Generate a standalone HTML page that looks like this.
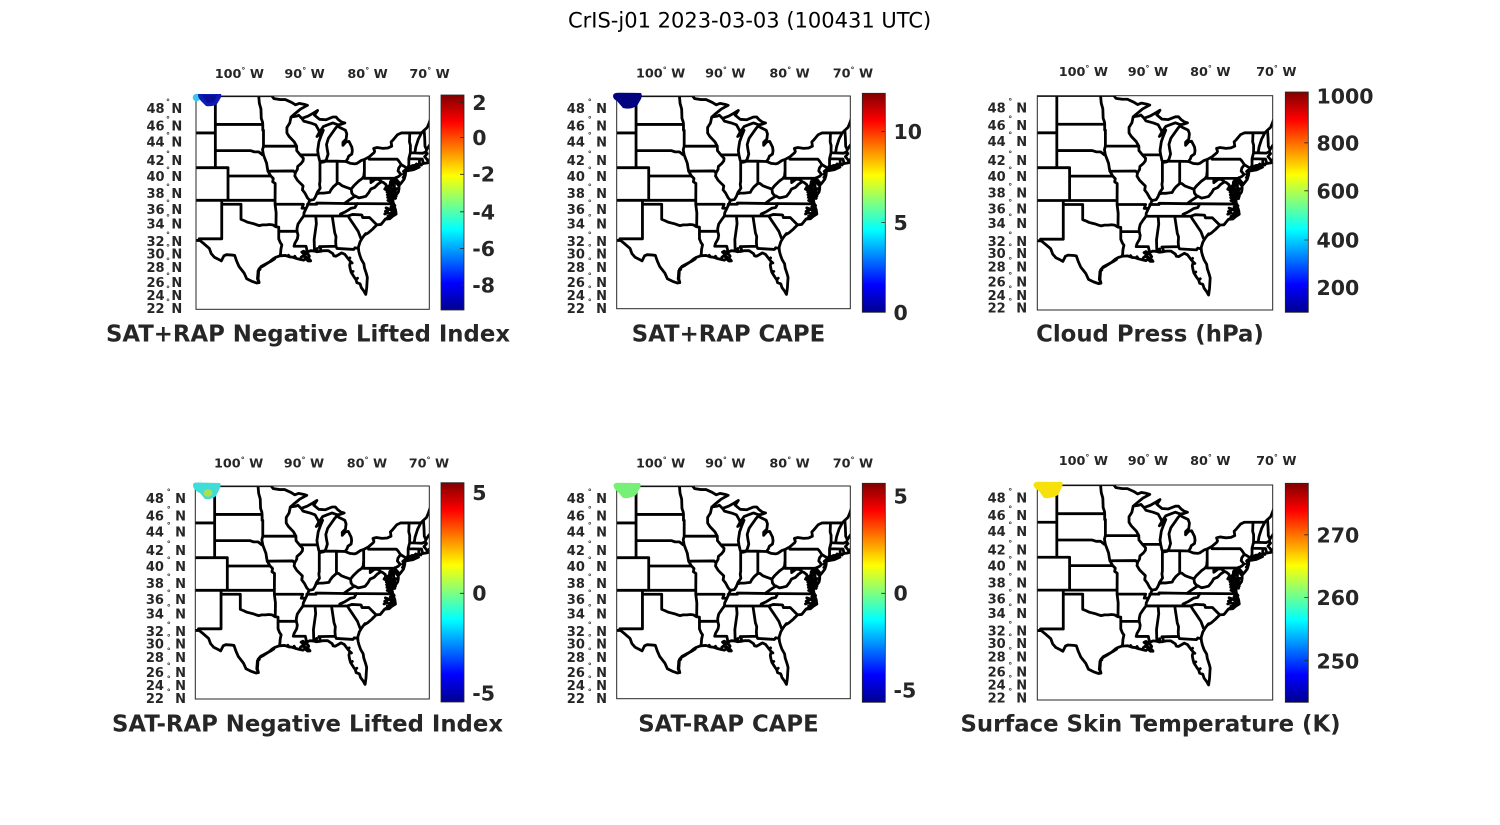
<!DOCTYPE html>
<html><head><meta charset="utf-8"><style>
html,body{margin:0;padding:0;background:#fff;}
svg{display:block;}
.t{font-family:"DejaVu Sans","Liberation Sans",sans-serif;fill:#262626;}
.lat{font-size:13px;font-weight:bold;}
.deg{font-size:8px;font-weight:bold;}
.lon{font-size:12.8px;font-weight:bold;}
.cb{font-size:20.5px;font-weight:bold;}
.st{font-size:22.8px;font-weight:bold;}
</style></head><body>
<svg width="1500" height="825" viewBox="0 0 1500 825" xmlns="http://www.w3.org/2000/svg">
<defs>
<linearGradient id="jet" x1="0" y1="1" x2="0" y2="0">
<stop offset="0" stop-color="#00008f"/><stop offset="0.125" stop-color="#0000ff"/><stop offset="0.375" stop-color="#00ffff"/><stop offset="0.625" stop-color="#ffff00"/><stop offset="0.875" stop-color="#ff0000"/><stop offset="1" stop-color="#800000"/>
</linearGradient>
<clipPath id="c1"><rect x="0" y="0" width="233.3" height="213.3"/></clipPath>
<clipPath id="c2"><rect x="0" y="0" width="233.6" height="212.7"/></clipPath>
<clipPath id="c3"><rect x="0" y="0" width="235.4" height="214.3"/></clipPath>
<clipPath id="c4"><rect x="0" y="0" width="234" height="213"/></clipPath>
<clipPath id="c6"><rect x="0" y="0" width="235.4" height="215"/></clipPath>
<g id="map">
<path vector-effect="non-scaling-stroke" fill="none" stroke="#000" stroke-width="2.8" stroke-linejoin="round" stroke-linecap="round" d="M-108,20.2L-95.15,20.2 -94.8,28.7 -93.8,31.5 -93,31.5 -92,40 -91.4,47.1 -90.8,42.8 -90,45.7 -89.5,48.5 -90.6,59.6 -91.5,73.5 -92.1,83.1 -91.2,80.4 -90.9,77.7 -90.4,87.2 -89.4,80.4 -88.5,70.7 -87.9,63.8 -88.4,77.7 -87.6,89.9 -86.6,91.3 -85.5,83.1 -85,83.1 -84.6,91.3 -84.1,98.1 -83.6,100.8 -84.2,104.8 -84.7,106.2 -85.5,100.8 -86.3,106.2 -87,111.5 -87.6,127.6 -88,140.8 -87.6,134.2 -87,122.3 -87.4,140.8 -87.7,156.6 -87.9,182.5 -87.8,195.2 -87.6,211.7 -87.3,217.4 -86.8,215.4 -86.5,207.9 -86.25,192.7 -86.4,177.3 -86.5,164.4 -86.2,146.1 -85.6,130.3 -85.1,116.9 -84.75,109.4 -84.4,114.2 -83.5,122.3 -83.3,132.9 -83.4,148.7 -83.9,157.9 -83.9,167 -83.4,156.6 -82.95,155.3 -82.5,172.1 -82.42,182.5 -82.5,192.7 -83,199 -83.15,206.6 -83.45,214.7 -82.7,220.4 -82,221.7 -81.7,220.4 -81,211.7 -80.52,208.7 -79.76,201 -79,188.8 -78.9,185 -79.05,176 -78.5,173.4 -77.6,176 -76.8,174.7 -76.2,169.5 -76.3,156.6 -76,151.3 -75.3,135.6 -74.7,130.3 -71.5,130.3 -71.08,122.3 -70.6,114.2 -70.3,100.8 -70,84.5 -69.3,65.2
M-69.2,157.9L-69.8,161.8 -70.2,165.7 -70.7,179.9 -70.8,186.3 -70.6,191.4 -71,200.3 -70.6,209.2 -70.5,214.2 -70,215.4 -69.95,206.6 -70.2,207.9 -70.05,216.2 -70.65,219.2 -71.1,220.4 -71.4,221.7 -71.85,225 -72.9,226.7 -73.7,234.2 -74,242.9 -74,246.6 -74.05,255.2 -74.25,267.4 -74.6,275.9 -74.95,283.7 -75.05,277.1 -75.5,267.4 -75.6,262.6 -75.55,271.1 -75.3,282 -75.05,287.3 -75.05,295.2 -75.15,304.8 -75.6,316.6 -75.95,326.1 -76,317.8 -75.85,307.2 -76,298.8 -76.3,291.6 -76.1,282 -76,272.3 -76.1,268.6 -76.4,274.7 -76.45,284.4 -76.6,296.4 -76.4,303.6 -76.3,315.4 -76.3,329.6 -76,330.8 -75.95,340.1 -75.6,357.6 -75.5,370.3 -76,376 -76.5,384 -77.2,385.1 -77.9,401 -78.55,402.2 -79.2,414.5 -79.9,425.7 -80.5,432.4 -80.85,441.3 -81.2,452.3 -81.45,467.7 -81.45,472 -81.4,480.8 -81.25,491.6 -81,504.6 -80.6,517.4 -80.5,530.2 -80.2,547.2 -80.05,557.7 -80.1,572.3 -80.15,588 -80.25,602 -80.3,608 -80.6,598 -81,588 -81.2,576.5 -81.7,573.3 -81.85,563.9 -82.1,557.7 -82.6,542.9 -82.75,532.3 -82.85,521.7 -82.7,511 -83,504.6 -83.6,489.5 -84.1,485.1 -84.4,488.4 -85,494.9 -85.35,493.8 -85.5,487.3 -86.2,478.6 -86.9,478.6 -87.5,480.8 -88,481.9 -88.4,479.7 -89,478.6 -89.6,483 -89.7,486.2 -89.4,489.5 -89.2,494.9 -89.4,502.4 -89.1,505.7 -89,508.9 -89.4,508.9 -89.8,502.4 -90.1,506.7 -90.6,504.6 -91.3,501.3 -91.8,498.1 -92.3,497 -93,492.7 -93.85,493.8 -94.5,498.1 -94.9,502.4 -95.5,512.1 -96.3,521.7 -96.9,528.1 -97.3,538.7 -97.35,551.4 -97.4,561.8 -97.15,573.3 -97.5,574.4 -98.3,569.2 -99.1,561.8 -99.5,545 -100.3,525.9 -100.7,508.9 -101,492.7 -101.4,491.6 -102.3,490.5 -102.7,493.8 -103.1,508.9 -103.5,504.6 -104.2,498.1 -104.7,487.3 -105,472 -105.8,458.9 -106.5,448.3 -108.2,448.3
M-73.95,242.9L-72.8,239.3 -71.85,231.2 -72.6,234.2 -73.7,235.5Z
M-103.04,329.6L-103.04,443.5 -106.6,443.5
M-103.04,341.3L-100,341.3 -100,386 -99.5,389.7 -99,394.2 -98.5,396.5 -98,398.8 -97.5,402.2 -97.1,404.4 -96.6,402.2 -96,402.2 -95.5,401.1 -95,402.2 -94.5,407.8 -94.04,408.9 -94.04,443.5 -93.8,454.5 -93.55,461.1 -93.7,474.2 -93.75,487.3 -93.85,493.8
M-94.04,421.3L-91.15,421.3
M-94.62,341.3L-94.45,366.8 -94.48,406.9
M-108,329.6L-94.62,329.6
M-102.05,233L-102.05,329.6
M-102.05,257.7L-95.3,257.7
M-108,233L-102.05,233
M-108,130.3L-104.05,130.3
M-104.05,15L-104.05,233
M-104.05,105.1L-96.56,105.1
M-104.05,182.5L-98.5,182.5 -97.9,186.3 -97.2,186.3 -96.6,195.2 -96.45,195.5
M-97.23,15L-97.1,42.8 -96.85,59.6 -96.8,87.2 -96.6,98.1 -96.56,105.1 -96.56,122.3 -96.45,122.3 -96.45,169.5 -91.22,169.5
M-96.45,169.5L-96.6,179.9 -96.45,195.5 -96.2,207.9 -95.95,220.4 -95.85,233 -95.75,242.9 -95.3,257.7 -94.9,265 -95,274.7 -94.6,279.6 -94.62,329.6 -94.62,341.3 -90.15,341.3 -90.37,353 -89.7,353
M-95.75,243.4L-91.73,242.7 -91.42,248.3
M-91.22,169.5L-91.2,182.5 -90.65,195.2 -90.15,205.4 -90.2,212.9 -90.5,220.4 -91.05,229.3 -91.1,237.9 -91.42,248.3 -91.5,257.7 -91.1,270 -90.6,279.6 -90.2,286.8 -90.3,298.8 -89.9,308.4 -89.5,322.5 -89.15,329.6 -89.4,341.3 -89.7,353 -90.05,366.8 -90.1,376 -90.55,387.4 -91,399.9 -91.15,412.3 -91.15,421.3 -91,432.4 -91.1,443.5 -91.5,456.7 -91.63,465.5 -89.73,465.5 -89.6,476.4 -89.6,483
M-92.1,83.1L-92.3,100.8 -92.75,114.2 -92.75,130.3 -92.4,140.8 -91.6,156.6 -91.22,169.5
M-90.64,195.2L-87.8,195.2
M-90.4,87.2L-90.1,95.3 -89,100.8 -88.2,106.2 -87.8,119.6 -87.6,127.6
M-87.53,215.4L-87.53,273.5 -87.6,282 -87.5,294 -87.95,306 -88.05,310.7
M-89.15,329.6L-88.5,327.2 -88.2,317.8 -88.05,310.7 -87.6,308.4 -87,308.4 -86.5,307.2 -86,306 -85.8,298.8 -85.4,289.2 -84.82,279.6 -84.5,279.6 -84,286.8 -83.5,290.4 -82.6,296.4 -82.2,286.8 -81.8,279.6 -81.4,272.3 -80.85,265 -80.6,257.7 -80.52,241.9 -80.52,208.7
M-87.2,213.9L-84.8,213.9 -83.45,214.7
M-84.82,213.9L-84.82,279.6
M-80.52,241.9L-80.52,264.5 -75.78,264.5
M-79.76,201L-79.76,207.9 -75.35,207.9 -75.1,212.9 -74.7,224 -75.1,234.2 -75.2,242.9 -74.75,252.8 -75.1,258.9 -75.5,262.6 -75.78,264.5 -75.78,295.2 -75.05,295.2
M-74.7,224L-73.9,233.2
M-73.7,234.2L-73.5,225.5 -73.5,206.6 -73.26,188.8 -73.25,167 -73.4,156.6 -73.35,130.3
M-73.26,188.8L-71.3,190.1 -70.8,186.3
M-73.5,206.6L-71.8,207.4 -71.85,225
M-71.8,207.4L-71.38,207.4 -71.2,220.4
M-72.55,189.3L-72.4,172.1 -72,148.7 -71.5,130.3
M-70.7,179.9L-70.95,169.5 -71,143.4 -71.08,122.3
M-79.48,264.5L-79.48,277.1 -78.8,267.4 -78.3,267.4 -77.8,274.7 -77.5,277.1 -77.1,283.2 -77.05,289.2 -77.3,296.4 -77,298.8 -76.4,306
M-77.8,274.7L-78.4,282 -78.9,291.6 -79.5,296.4 -79.8,306 -80.3,317.8 -80.8,320.2 -81.4,322.5 -81.97,316.9 -82.2,315.4 -82.5,308.4 -82.6,296.4
M-81.97,316.9L-83,329.6 -83.68,339
M-89.5,341.3L-88.05,341.3 -88.05,337.8 -83.68,339 -75.87,340.1
M-81.65,339L-82,350.7 -82.6,353 -83.1,358.8 -83.5,363.4 -84.3,370.3 -84.32,376
M-90.1,376L-83.1,376
M-83.1,376L-82.4,371.4 -81.05,372.6 -80.9,373.7 -80.8,380.6 -79.7,380.6 -78.55,402.2
M-83.1,376L-82.8,385.1 -82.3,398.8 -81.9,410.1 -81.5,421.3 -81.1,441.3
M-85.6,376L-85.2,425.7 -85,436.8 -85.05,452.3 -85,465.5 -84.85,472 -82.2,474.9 -82,469.9 -81.45,472
M-87.6,466.6L-85,465.5
M-87.6,466.6L-87.4,474.2 -87.5,480.8
M-88.2,376L-88.1,398.8 -88.45,445.7 -88.4,479.7
M-75.95,340.1L-76.3,348.3 -76,353 -76.6,355.3 -75.9,362.2 -76.5,369.1 -76.2,372.6 -76.8,376 -76.4,379.4 -77,382.8
M-75.9,296L-76.2,299.5 -75.95,303 -76.15,306 -75.85,309 -76.05,312 -75.8,316
M-76.45,284.4L-76.7,288 -76.4,292 -76.75,296 -76.3,300 -76.65,305 -76.25,309 -76.7,313 -76.3,318 -76.6,323 -76.25,327
M-76.9,290L-76.5,293 -76.9,297 -76.5,301 -76.95,305 -76.5,309 -76.9,313 -76.45,317 -76.85,321 -76.4,325 -76.8,330 -76.3,334
M-75.6,300L-75.95,302 -75.6,305 -75.95,308 -75.55,311 -75.9,314 -75.5,318 -75.85,321 -75.6,324
M-75.7,345L-76.1,350 -75.8,354 -76.3,358 -75.85,362 -76.2,366 -75.8,370
M-76.6,355L-77.1,352 -76.7,358 -77.2,362 -76.8,366 -77.3,370
M-74.1,240L-74.35,244 -74.1,248 -74.35,252 -74.15,258 -74.4,262
M-72.5,226L-72.3,222 -72.0,226 -71.7,222 -71.5,225
M-73.3,230L-73.0,228 -73.5,232
M-88,481.9L-87.95,472 -88.1,474
M-89.7,486.2L-90.1,480 -90.4,483 -89.9,490 -90.3,495 -89.7,497
M-94.7,503L-95.3,510 -96.1,518 -96.8,525 -97.2,534 -97.25,550 -97.3,562 -97.15,572
M-91.3,501.3L-91.5,495 M-92.3,497L-92.5,492 M-90.6,504.6L-90.5,498 M-82.6,542.9L-82.3,540 M-81.85,563.9L-81.6,560 M-82.7,511L-82.45,515 M-83,504.6L-82.8,500 M-95.5,512.1L-95.1,508 M-96.3,521.7L-96.0,517 M-97.3,538.7L-97.0,534 M-77.9,401L-77.7,397 M-79.2,414.5L-79.0,410 M-80.5,432.4L-80.3,428"/>
</g>
</defs>
<rect width="1500" height="825" fill="#fff"/>

<text x="749.6" y="27.3" text-anchor="middle" font-family="DejaVu Sans, Liberation Sans, sans-serif" font-size="21" fill="#000">CrIS-j01 2023-03-03 (100431 UTC)</text>

<!-- Panel 1 -->
<g transform="translate(196,96)">
<g clip-path="url(#c1)"><use href="#map" transform="matrix(6.3333 0 0 0.33798 678.33 -7.083)"/></g>
<rect x="0" y="0" width="233.3" height="213.3" fill="none" stroke="#262626" stroke-width="1"/>
</g>
<circle cx="196.5" cy="97.5" r="3.8" fill="#38c8f0"/>
<path d="M198,94 L221,94 Q222,96 220,99 L217,104 Q212,107 206,106 L201,101 Q198,98 198,94 Z" fill="#0c1cb4"/>
<path d="M202,95 L217,95 L214,102 L207,103 Z" fill="#0a0e98"/>

<!-- Panel 2 -->
<g transform="translate(616.7,96)">
<g clip-path="url(#c2)"><use href="#map" transform="matrix(6.3333 0 0 0.33798 678.33 -7.083)"/></g>
<rect x="0" y="0" width="233.6" height="212.7" fill="none" stroke="#262626" stroke-width="1"/>
</g>
<path d="M613,96 Q613,92.7 618,92.7 L641,93 Q642.5,95 641,99 L637,106 Q630,110 623,108 L617,101 Q613,99 613,96 Z" fill="#03037f"/>

<!-- Panel 3 -->
<g transform="translate(1037.3,95.7)">
<g clip-path="url(#c3)"><use href="#map" transform="matrix(6.39 0 0 0.33957 684.4 -7.116)"/></g>
<rect x="0" y="0" width="235.4" height="214.3" fill="none" stroke="#262626" stroke-width="1"/>
</g>

<!-- Panel 4 -->
<g transform="translate(195.3,486)">
<g clip-path="url(#c4)"><use href="#map" transform="matrix(6.3333 0 0 0.33798 678.33 -7.083)"/></g>
<rect x="0" y="0" width="234" height="213" fill="none" stroke="#262626" stroke-width="1"/>
</g>
<path d="M193,485 Q193,482.5 197,482.5 L220,483 Q221.5,485 219.5,489 L216,496 Q211,500 205,499 L200,493 Q193,490 193,485 Z" fill="#40dcd8"/>
<ellipse cx="208" cy="493" rx="4.5" ry="3.8" fill="#a8e050"/>

<!-- Panel 5 -->
<g transform="translate(616.7,486)">
<g clip-path="url(#c2)"><use href="#map" transform="matrix(6.3333 0 0 0.33798 678.33 -7.083)"/></g>
<rect x="0" y="0" width="233.6" height="212.7" fill="none" stroke="#262626" stroke-width="1"/>
</g>
<path d="M613.5,485 Q614,482.7 618,482.7 L640,483 Q641.5,485 639.5,489 L636,495 Q630,499 623,498 L618,492 Q613.5,489 613.5,485 Z" fill="#78f078"/>

<!-- Panel 6 -->
<g transform="translate(1037.3,485)">
<g clip-path="url(#c6)"><use href="#map" transform="matrix(6.39 0 0 0.34068 684.4 -7.14)"/></g>
<rect x="0" y="0" width="235.4" height="215" fill="none" stroke="#262626" stroke-width="1"/>
</g>
<path d="M1033.5,484.5 Q1034,481.7 1038,481.7 L1062,482 Q1063.5,484 1061.5,488 L1058,495 Q1051,499 1044,498 L1039,491 Q1033.5,488 1033.5,484.5 Z" fill="#f6e10a"/>

<!-- Colorbars -->
<g stroke="#262626" stroke-width="0.8">
<rect x="441" y="95" width="23" height="215" fill="url(#jet)"/>
<rect x="862.3" y="93.3" width="23" height="219" fill="url(#jet)"/>
<rect x="1285.3" y="92" width="23" height="220.3" fill="url(#jet)"/>
<rect x="441" y="482.7" width="23" height="219.3" fill="url(#jet)"/>
<rect x="862.3" y="483.3" width="23" height="219" fill="url(#jet)"/>
<rect x="1285.3" y="483.3" width="23" height="219" fill="url(#jet)"/>
<path d="M460,102.5h4M460,137.5h4M460,174.3h4M460,211.8h4M460,248.5h4M460,285.2h4M881.3,131.5h4M881.3,222.5h4M1304.3,142.8h4M1304.3,190.8h4M1304.3,240h4M1304.3,287.8h4M460,593.3h4M881.3,593.3h4M1304.3,534.8h4M1304.3,597.5h4M1304.3,660.3h4"/>
</g>

<g class="t cb">
<text x="472.2" y="110">2</text>
<text x="472.2" y="145">0</text>
<text x="472.2" y="181.7">-2</text>
<text x="472.2" y="219.3">-4</text>
<text x="472.2" y="256">-6</text>
<text x="472.2" y="292.7">-8</text>
<text x="893.5" y="139">10</text>
<text x="893.5" y="230">5</text>
<text x="893.5" y="320">0</text>
<text x="1316.5" y="103.3">1000</text>
<text x="1316.5" y="150.7">800</text>
<text x="1316.5" y="198.3">600</text>
<text x="1316.5" y="247.3">400</text>
<text x="1316.5" y="295">200</text>
<text x="472.2" y="500">5</text>
<text x="472.2" y="600.7">0</text>
<text x="472.2" y="700.7">-5</text>
<text x="893.5" y="503.3">5</text>
<text x="893.5" y="600.7">0</text>
<text x="893.5" y="697.3">-5</text>
<text x="1316.5" y="542.3">270</text>
<text x="1316.5" y="605">260</text>
<text x="1316.5" y="668.3">250</text>
</g>

<g class="t st" text-anchor="middle">
<text x="308" y="341.5">SAT+RAP Negative Lifted Index</text>
<text x="728.5" y="341.5">SAT+RAP CAPE</text>
<text x="1150" y="341.5">Cloud Press (hPa)</text>
<text x="307.5" y="731.7">SAT-RAP Negative Lifted Index</text>
<text x="728.5" y="731.7">SAT-RAP CAPE</text>
<text x="1150.5" y="731.7">Surface Skin Temperature (K)</text>
</g>

<!-- Longitude labels -->
<g class="t lon">
<text x="214.7" y="78">100<tspan class="deg" dy="-5">°</tspan><tspan dy="5"> W</tspan></text>
<text x="284.4" y="78">90<tspan class="deg" dy="-5">°</tspan><tspan dy="5"> W</tspan></text>
<text x="347.4" y="78">80<tspan class="deg" dy="-5">°</tspan><tspan dy="5"> W</tspan></text>
<text x="409.4" y="78">70<tspan class="deg" dy="-5">°</tspan><tspan dy="5"> W</tspan></text>

<text x="636" y="77.3">100<tspan class="deg" dy="-5">°</tspan><tspan dy="5"> W</tspan></text>
<text x="705.1" y="77.3">90<tspan class="deg" dy="-5">°</tspan><tspan dy="5"> W</tspan></text>
<text x="769.4" y="77.3">80<tspan class="deg" dy="-5">°</tspan><tspan dy="5"> W</tspan></text>
<text x="832.7" y="77.3">70<tspan class="deg" dy="-5">°</tspan><tspan dy="5"> W</tspan></text>

<text x="1058.7" y="76">100<tspan class="deg" dy="-5">°</tspan><tspan dy="5"> W</tspan></text>
<text x="1127.7" y="76">90<tspan class="deg" dy="-5">°</tspan><tspan dy="5"> W</tspan></text>
<text x="1190.1" y="76">80<tspan class="deg" dy="-5">°</tspan><tspan dy="5"> W</tspan></text>
<text x="1256.1" y="76">70<tspan class="deg" dy="-5">°</tspan><tspan dy="5"> W</tspan></text>

<text x="214" y="467.3">100<tspan class="deg" dy="-5">°</tspan><tspan dy="5"> W</tspan></text>
<text x="283.7" y="467.3">90<tspan class="deg" dy="-5">°</tspan><tspan dy="5"> W</tspan></text>
<text x="346.7" y="467.3">80<tspan class="deg" dy="-5">°</tspan><tspan dy="5"> W</tspan></text>
<text x="408.7" y="467.3">70<tspan class="deg" dy="-5">°</tspan><tspan dy="5"> W</tspan></text>

<text x="636" y="467.3">100<tspan class="deg" dy="-5">°</tspan><tspan dy="5"> W</tspan></text>
<text x="705.1" y="467.3">90<tspan class="deg" dy="-5">°</tspan><tspan dy="5"> W</tspan></text>
<text x="769.4" y="467.3">80<tspan class="deg" dy="-5">°</tspan><tspan dy="5"> W</tspan></text>
<text x="832.7" y="467.3">70<tspan class="deg" dy="-5">°</tspan><tspan dy="5"> W</tspan></text>

<text x="1058.7" y="465">100<tspan class="deg" dy="-5">°</tspan><tspan dy="5"> W</tspan></text>
<text x="1127.7" y="465">90<tspan class="deg" dy="-5">°</tspan><tspan dy="5"> W</tspan></text>
<text x="1190.1" y="465">80<tspan class="deg" dy="-5">°</tspan><tspan dy="5"> W</tspan></text>
<text x="1256.1" y="465">70<tspan class="deg" dy="-5">°</tspan><tspan dy="5"> W</tspan></text>
</g>

<!-- Latitude labels: Panel 1 -->
<g class="t" transform="translate(196,96)">
<g class="lat" text-anchor="end">
<text x="-31.4" y="16.8">48</text><text x="-31.4" y="34.5">46</text><text x="-31.4" y="50.5">44</text><text x="-31.4" y="69.2">42</text><text x="-31.4" y="85.2">40</text><text x="-31.4" y="101.8">38</text><text x="-31.4" y="117.8">36</text><text x="-31.4" y="132.5">34</text><text x="-31.4" y="150.2">32</text><text x="-31.4" y="162.5">30</text><text x="-31.4" y="175.8">28</text><text x="-31.4" y="190.8">26</text><text x="-31.4" y="204.2">24</text><text x="-31.4" y="216.8">22</text>
</g>
<g class="deg">
<text x="-30" y="8.3">°</text><text x="-30" y="26">°</text><text x="-30" y="42">°</text><text x="-30" y="60.7">°</text><text x="-30" y="76.7">°</text><text x="-30" y="93.3">°</text><text x="-30" y="109.3">°</text><text x="-30" y="124">°</text><text x="-30" y="141.7">°</text><text x="-30" y="154">°</text><text x="-30" y="167.3">°</text><text x="-30" y="182.3">°</text><text x="-30" y="195.7">°</text><text x="-30" y="208.3">°</text>
</g>
<g class="lat">
<text x="-24.6" y="16.8">N</text><text x="-24.6" y="34.5">N</text><text x="-24.6" y="50.5">N</text><text x="-24.6" y="69.2">N</text><text x="-24.6" y="85.2">N</text><text x="-24.6" y="101.8">N</text><text x="-24.6" y="117.8">N</text><text x="-24.6" y="132.5">N</text><text x="-24.6" y="150.2">N</text><text x="-24.6" y="162.5">N</text><text x="-24.6" y="175.8">N</text><text x="-24.6" y="190.8">N</text><text x="-24.6" y="204.2">N</text><text x="-24.6" y="216.8">N</text>
</g>
</g>

<!-- Panel 2 -->
<g class="t" transform="translate(616.7,96)">
<g class="lat" text-anchor="end">
<text x="-31.8" y="16.8">48</text><text x="-31.8" y="34.5">46</text><text x="-31.8" y="50.5">44</text><text x="-31.8" y="69.2">42</text><text x="-31.8" y="85.2">40</text><text x="-31.8" y="101.8">38</text><text x="-31.8" y="117.8">36</text><text x="-31.8" y="132.5">34</text><text x="-31.8" y="150.2">32</text><text x="-31.8" y="162.5">30</text><text x="-31.8" y="175.8">28</text><text x="-31.8" y="190.8">26</text><text x="-31.8" y="204.2">24</text><text x="-31.8" y="216.8">22</text>
</g>
<g class="deg">
<text x="-29" y="8.3">°</text><text x="-29" y="26">°</text><text x="-29" y="42">°</text><text x="-29" y="60.7">°</text><text x="-29" y="76.7">°</text><text x="-29" y="93.3">°</text><text x="-29" y="109.3">°</text><text x="-29" y="124">°</text><text x="-29" y="141.7">°</text><text x="-29" y="154">°</text><text x="-29" y="167.3">°</text><text x="-29" y="182.3">°</text><text x="-29" y="195.7">°</text><text x="-29" y="208.3">°</text>
</g>
<g class="lat">
<text x="-20.6" y="16.8">N</text><text x="-20.6" y="34.5">N</text><text x="-20.6" y="50.5">N</text><text x="-20.6" y="69.2">N</text><text x="-20.6" y="85.2">N</text><text x="-20.6" y="101.8">N</text><text x="-20.6" y="117.8">N</text><text x="-20.6" y="132.5">N</text><text x="-20.6" y="150.2">N</text><text x="-20.6" y="162.5">N</text><text x="-20.6" y="175.8">N</text><text x="-20.6" y="190.8">N</text><text x="-20.6" y="204.2">N</text><text x="-20.6" y="216.8">N</text>
</g>
</g>

<!-- Panel 3 -->
<g class="t" transform="translate(1037.3,95.7)">
<g class="lat" text-anchor="end">
<text x="-31.6" y="16.8">48</text><text x="-31.6" y="34.5">46</text><text x="-31.6" y="50.5">44</text><text x="-31.6" y="69.2">42</text><text x="-31.6" y="85.2">40</text><text x="-31.6" y="101.8">38</text><text x="-31.6" y="117.8">36</text><text x="-31.6" y="132.5">34</text><text x="-31.6" y="150.2">32</text><text x="-31.6" y="162.5">30</text><text x="-31.6" y="175.8">28</text><text x="-31.6" y="190.8">26</text><text x="-31.6" y="204.2">24</text><text x="-31.6" y="216.8">22</text>
</g>
<g class="deg">
<text x="-29" y="8.3">°</text><text x="-29" y="26">°</text><text x="-29" y="42">°</text><text x="-29" y="60.7">°</text><text x="-29" y="76.7">°</text><text x="-29" y="93.3">°</text><text x="-29" y="109.3">°</text><text x="-29" y="124">°</text><text x="-29" y="141.7">°</text><text x="-29" y="154">°</text><text x="-29" y="167.3">°</text><text x="-29" y="182.3">°</text><text x="-29" y="195.7">°</text><text x="-29" y="208.3">°</text>
</g>
<g class="lat">
<text x="-21" y="16.8">N</text><text x="-21" y="34.5">N</text><text x="-21" y="50.5">N</text><text x="-21" y="69.2">N</text><text x="-21" y="85.2">N</text><text x="-21" y="101.8">N</text><text x="-21" y="117.8">N</text><text x="-21" y="132.5">N</text><text x="-21" y="150.2">N</text><text x="-21" y="162.5">N</text><text x="-21" y="175.8">N</text><text x="-21" y="190.8">N</text><text x="-21" y="204.2">N</text><text x="-21" y="216.8">N</text>
</g>
</g>

<!-- Panel 4 -->
<g class="t" transform="translate(195.3,486)">
<g class="lat" text-anchor="end">
<text x="-31.4" y="16.8">48</text><text x="-31.4" y="34.5">46</text><text x="-31.4" y="50.5">44</text><text x="-31.4" y="69.2">42</text><text x="-31.4" y="85.2">40</text><text x="-31.4" y="101.8">38</text><text x="-31.4" y="117.8">36</text><text x="-31.4" y="132.5">34</text><text x="-31.4" y="150.2">32</text><text x="-31.4" y="162.5">30</text><text x="-31.4" y="175.8">28</text><text x="-31.4" y="190.8">26</text><text x="-31.4" y="204.2">24</text><text x="-31.4" y="216.8">22</text>
</g>
<g class="deg">
<text x="-28.5" y="8.3">°</text><text x="-28.5" y="26">°</text><text x="-28.5" y="42">°</text><text x="-28.5" y="60.7">°</text><text x="-28.5" y="76.7">°</text><text x="-28.5" y="93.3">°</text><text x="-28.5" y="109.3">°</text><text x="-28.5" y="124">°</text><text x="-28.5" y="141.7">°</text><text x="-28.5" y="154">°</text><text x="-28.5" y="167.3">°</text><text x="-28.5" y="182.3">°</text><text x="-28.5" y="195.7">°</text><text x="-28.5" y="208.3">°</text>
</g>
<g class="lat">
<text x="-20.2" y="16.8">N</text><text x="-20.2" y="34.5">N</text><text x="-20.2" y="50.5">N</text><text x="-20.2" y="69.2">N</text><text x="-20.2" y="85.2">N</text><text x="-20.2" y="101.8">N</text><text x="-20.2" y="117.8">N</text><text x="-20.2" y="132.5">N</text><text x="-20.2" y="150.2">N</text><text x="-20.2" y="162.5">N</text><text x="-20.2" y="175.8">N</text><text x="-20.2" y="190.8">N</text><text x="-20.2" y="204.2">N</text><text x="-20.2" y="216.8">N</text>
</g>
</g>

<!-- Panel 5 -->
<g class="t" transform="translate(616.7,486)">
<g class="lat" text-anchor="end">
<text x="-31.8" y="16.8">48</text><text x="-31.8" y="34.5">46</text><text x="-31.8" y="50.5">44</text><text x="-31.8" y="69.2">42</text><text x="-31.8" y="85.2">40</text><text x="-31.8" y="101.8">38</text><text x="-31.8" y="117.8">36</text><text x="-31.8" y="132.5">34</text><text x="-31.8" y="150.2">32</text><text x="-31.8" y="162.5">30</text><text x="-31.8" y="175.8">28</text><text x="-31.8" y="190.8">26</text><text x="-31.8" y="204.2">24</text><text x="-31.8" y="216.8">22</text>
</g>
<g class="deg">
<text x="-29" y="8.3">°</text><text x="-29" y="26">°</text><text x="-29" y="42">°</text><text x="-29" y="60.7">°</text><text x="-29" y="76.7">°</text><text x="-29" y="93.3">°</text><text x="-29" y="109.3">°</text><text x="-29" y="124">°</text><text x="-29" y="141.7">°</text><text x="-29" y="154">°</text><text x="-29" y="167.3">°</text><text x="-29" y="182.3">°</text><text x="-29" y="195.7">°</text><text x="-29" y="208.3">°</text>
</g>
<g class="lat">
<text x="-20.6" y="16.8">N</text><text x="-20.6" y="34.5">N</text><text x="-20.6" y="50.5">N</text><text x="-20.6" y="69.2">N</text><text x="-20.6" y="85.2">N</text><text x="-20.6" y="101.8">N</text><text x="-20.6" y="117.8">N</text><text x="-20.6" y="132.5">N</text><text x="-20.6" y="150.2">N</text><text x="-20.6" y="162.5">N</text><text x="-20.6" y="175.8">N</text><text x="-20.6" y="190.8">N</text><text x="-20.6" y="204.2">N</text><text x="-20.6" y="216.8">N</text>
</g>
</g>

<!-- Panel 6 -->
<g class="t" transform="translate(1037.3,485.5)">
<g class="lat" text-anchor="end">
<text x="-31.6" y="16.8">48</text><text x="-31.6" y="34.5">46</text><text x="-31.6" y="50.5">44</text><text x="-31.6" y="69.2">42</text><text x="-31.6" y="85.2">40</text><text x="-31.6" y="101.8">38</text><text x="-31.6" y="117.8">36</text><text x="-31.6" y="132.5">34</text><text x="-31.6" y="150.2">32</text><text x="-31.6" y="162.5">30</text><text x="-31.6" y="175.8">28</text><text x="-31.6" y="190.8">26</text><text x="-31.6" y="204.2">24</text><text x="-31.6" y="216.8">22</text>
</g>
<g class="deg">
<text x="-29" y="8.3">°</text><text x="-29" y="26">°</text><text x="-29" y="42">°</text><text x="-29" y="60.7">°</text><text x="-29" y="76.7">°</text><text x="-29" y="93.3">°</text><text x="-29" y="109.3">°</text><text x="-29" y="124">°</text><text x="-29" y="141.7">°</text><text x="-29" y="154">°</text><text x="-29" y="167.3">°</text><text x="-29" y="182.3">°</text><text x="-29" y="195.7">°</text><text x="-29" y="208.3">°</text>
</g>
<g class="lat">
<text x="-21" y="16.8">N</text><text x="-21" y="34.5">N</text><text x="-21" y="50.5">N</text><text x="-21" y="69.2">N</text><text x="-21" y="85.2">N</text><text x="-21" y="101.8">N</text><text x="-21" y="117.8">N</text><text x="-21" y="132.5">N</text><text x="-21" y="150.2">N</text><text x="-21" y="162.5">N</text><text x="-21" y="175.8">N</text><text x="-21" y="190.8">N</text><text x="-21" y="204.2">N</text><text x="-21" y="216.8">N</text>
</g>
</g>
</svg>
</body></html>
